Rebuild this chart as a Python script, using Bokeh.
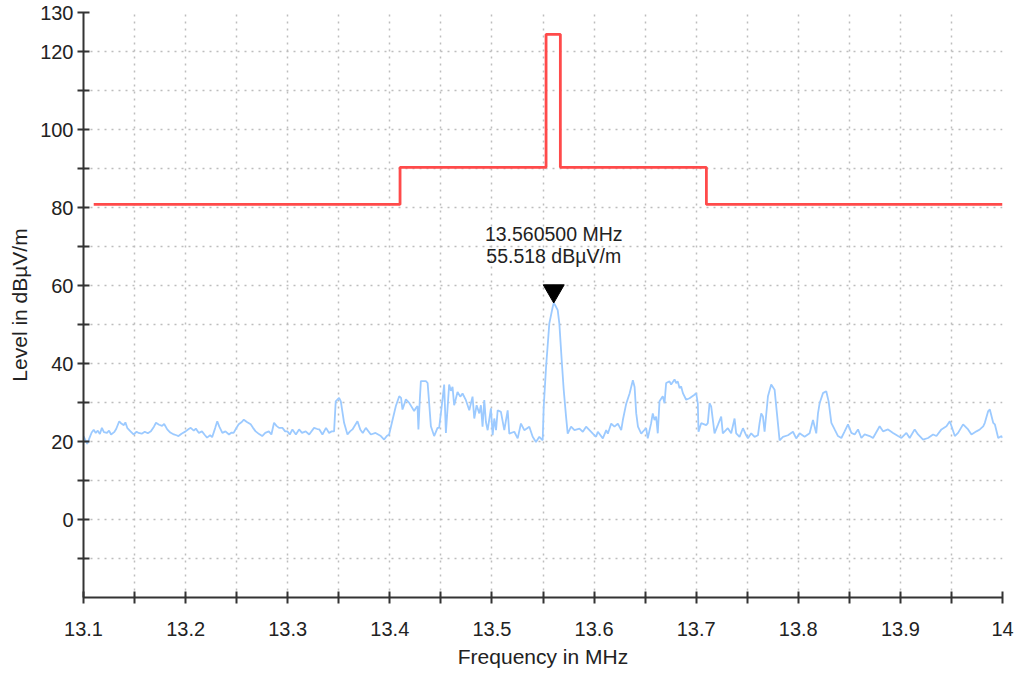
from bokeh.plotting import figure
from bokeh.models import FixedTicker, Range1d, CustomJSTickFormatter
from bokeh.embed import file_html
from bokeh.resources import INLINE
from bokeh.core.properties import value

# ---------------- data ----------------
x_major = [13.1, 13.2, 13.3, 13.4, 13.5, 13.6, 13.7, 13.8, 13.9, 14.0]
x_minor = [13.15, 13.25, 13.35, 13.45, 13.55, 13.65, 13.75, 13.85, 13.95]
y_major = [0, 20, 40, 60, 80, 100, 120, 130]
y_minor = [-10, 10, 30, 50, 70, 90, 110]

limit_freq = [13.11, 13.41, 13.41, 13.553, 13.553, 13.567, 13.567, 13.71, 13.71, 14.0]
limit_level = [80.8, 80.8, 90.3, 90.3, 124.4, 124.4, 90.3, 90.3, 80.8, 80.8]

peak_freq = 13.5605
peak_level = 55.518
peak_label_1 = "13.560500 MHz"
peak_label_2 = "55.518 dBµV/m"

trace_freq = [
    13.100, 13.1036, 13.106, 13.108, 13.110, 13.112, 13.114, 13.116, 13.118, 13.120,
    13.123, 13.125, 13.127, 13.130, 13.132, 13.135, 13.137, 13.1395, 13.141, 13.143,
    13.146, 13.149, 13.152, 13.154, 13.157, 13.160, 13.163, 13.166, 13.169, 13.171,
    13.174, 13.177, 13.179, 13.182, 13.185, 13.1885, 13.191, 13.193, 13.196, 13.200,
    13.203, 13.205, 13.208, 13.210, 13.213, 13.216, 13.219, 13.221, 13.224, 13.226,
    13.229, 13.231, 13.233, 13.236, 13.239, 13.2425, 13.245, 13.247, 13.250, 13.252,
    13.255, 13.257, 13.260, 13.2637, 13.266, 13.2686, 13.272, 13.275, 13.278, 13.2815,
    13.284, 13.2866, 13.289, 13.2915, 13.2948, 13.2975, 13.2997, 13.302, 13.3046, 13.308,
    13.3111, 13.314, 13.3176, 13.321, 13.3258, 13.329, 13.331, 13.334, 13.3375, 13.3405,
    13.343, 13.3454, 13.347, 13.3503, 13.352, 13.3552, 13.3585, 13.361, 13.3634, 13.3683,
    13.371, 13.3735, 13.3765, 13.3814, 13.386, 13.3912, 13.3944, 13.397, 13.3993, 13.402,
    13.4059, 13.4092, 13.411, 13.4124, 13.4157, 13.419, 13.4238, 13.4255, 13.4271, 13.428,
    13.4292, 13.4304, 13.4353, 13.437, 13.4385, 13.4402, 13.4434, 13.4467, 13.4483, 13.4516,
    13.4532, 13.4549, 13.4581, 13.4598, 13.4614, 13.463, 13.4663, 13.469, 13.4712, 13.4745,
    13.4778, 13.481, 13.4827, 13.485, 13.4876, 13.4892, 13.4908, 13.4925, 13.4941, 13.4958,
    13.499, 13.5007, 13.5023, 13.504, 13.5056, 13.5088, 13.5121, 13.5154, 13.517, 13.5219,
    13.5252, 13.5284, 13.5317, 13.5366, 13.5399, 13.5431, 13.5464, 13.5497, 13.5507, 13.553,
    13.5562, 13.5595, 13.5605, 13.5618, 13.5644, 13.566, 13.5683, 13.5703, 13.5726, 13.5742,
    13.5775, 13.5808, 13.5857, 13.589, 13.5922, 13.5955, 13.5988, 13.602, 13.6037, 13.6086,
    13.6119, 13.6135, 13.6168, 13.620, 13.6233, 13.6266, 13.6282, 13.6315, 13.6348, 13.638,
    13.6397, 13.6413, 13.643, 13.6462, 13.6477, 13.651, 13.6526, 13.6559, 13.6575, 13.6592,
    13.6608, 13.6624, 13.6641, 13.6673, 13.669, 13.6706, 13.6739, 13.6755, 13.6788, 13.6804,
    13.682, 13.6837, 13.6853, 13.687, 13.6902, 13.6935, 13.6984, 13.700, 13.7016, 13.7023,
    13.7049, 13.7098, 13.7114, 13.7131, 13.7147, 13.718, 13.7212, 13.7245, 13.7261, 13.731,
    13.7343, 13.7376, 13.7392, 13.7425, 13.7458, 13.749, 13.7507, 13.7539, 13.7572, 13.7605,
    13.7621, 13.7637, 13.7654, 13.767, 13.7703, 13.7735, 13.7768, 13.7791, 13.7817, 13.785,
    13.7899, 13.7948, 13.798, 13.8013, 13.8062, 13.8111, 13.8144, 13.8176, 13.8193, 13.8209,
    13.8242, 13.8268, 13.8274, 13.8297, 13.8324, 13.8356, 13.8389, 13.8422, 13.8454, 13.8487,
    13.852, 13.8552, 13.8585, 13.8618, 13.865, 13.8699, 13.8732, 13.8797, 13.883, 13.8879,
    13.8928, 13.8977, 13.901, 13.9059, 13.9091, 13.914, 13.9173, 13.9222, 13.9271, 13.932,
    13.9353, 13.9402, 13.9451, 13.9484, 13.9533, 13.9565, 13.9614, 13.9663, 13.9696, 13.9745,
    13.9778, 13.9811, 13.9827, 13.986, 13.9876, 13.9909, 13.9925, 13.9958, 13.9991, 14.000,
]
trace_level = [
    21.4, 19.4, 21.0, 22.3, 23.0, 22.2, 22.8, 21.9, 23.5, 22.4,
    22.2, 22.8, 21.8, 22.4, 23.2, 25.2, 24.6, 24.2, 24.9, 23.4,
    22.6, 21.8, 22.5, 22.2, 22.0, 22.5, 22.1, 22.6, 23.8, 24.8,
    24.3, 24.0, 24.5, 23.1, 22.3, 21.8, 21.6, 21.4, 22.0, 22.6,
    23.2, 23.5, 22.8, 23.3, 22.2, 22.6, 21.6, 21.0, 21.6, 21.1,
    23.5, 25.2, 23.8, 22.2, 22.6, 21.8, 22.3, 22.2, 23.6, 24.4,
    25.0, 25.6, 25.0, 24.4, 23.5, 22.6, 21.9, 21.4, 22.2, 22.6,
    21.8, 24.8, 24.0, 23.5, 23.5, 22.6, 22.6, 21.8, 23.1, 21.8,
    23.1, 22.2, 22.6, 21.8, 23.5, 23.2, 23.1, 21.8, 23.5, 22.2,
    22.6, 22.6, 30.3, 31.2, 30.3, 24.8, 21.8, 22.6, 23.1, 25.2,
    23.1, 22.2, 23.5, 21.8, 22.2, 21.4, 20.5, 21.4, 21.8, 24.8,
    29.1, 31.6, 31.2, 28.2, 30.8, 29.9, 27.8, 28.6, 29.1, 23.1,
    29.9, 35.5, 35.5, 35.0, 29.9, 23.9, 21.4, 23.5, 23.5, 30.8,
    34.6, 22.2, 34.6, 33.0, 34.0, 29.3, 32.7, 31.5, 32.3, 30.6,
    28.0, 31.5, 25.9, 29.3, 27.2, 29.3, 23.8, 30.6, 25.0, 22.9,
    28.5, 21.6, 25.9, 22.9, 28.0, 27.6, 22.9, 28.0, 22.0, 22.5,
    20.8, 24.6, 22.9, 23.8, 21.2, 19.9, 21.2, 20.3, 28.9, 39.1,
    50.3, 54.5, 55.518, 55.0, 53.7, 50.3, 40.9, 33.2, 26.3, 22.0,
    23.8, 22.9, 23.3, 22.5, 23.8, 22.9, 22.0, 21.2, 22.5, 20.8,
    22.9, 22.0, 24.6, 23.8, 24.6, 22.9, 25.5, 29.7, 32.3, 35.7,
    34.0, 27.2, 23.8, 22.0, 22.5, 23.4, 20.8, 24.7, 27.2, 25.5,
    26.4, 22.1, 30.3, 31.6, 29.8, 35.0, 35.4, 34.6, 35.9, 35.0,
    35.4, 33.7, 34.1, 32.4, 30.7, 31.1, 32.0, 32.4, 29.8, 22.5,
    24.7, 24.2, 24.7, 29.8, 29.0, 22.1, 24.2, 26.4, 22.1, 23.4,
    22.1, 25.9, 22.1, 21.2, 23.4, 21.6, 20.8, 22.1, 21.2, 21.6,
    24.7, 27.2, 26.4, 22.5, 31.6, 34.6, 33.3, 27.2, 20.3, 21.2,
    21.6, 22.5, 20.8, 22.1, 21.2, 22.1, 25.5, 22.1, 27.2, 29.8,
    32.4, 32.8, 32.9, 30.3, 24.8, 23.1, 21.4, 20.9, 22.6, 24.4,
    22.2, 21.8, 23.1, 20.9, 21.8, 21.4, 20.9, 23.9, 22.6, 23.1,
    22.2, 21.4, 20.9, 22.2, 20.9, 23.1, 21.8, 20.5, 20.9, 21.8,
    21.4, 23.1, 23.9, 25.2, 21.4, 22.2, 24.4, 23.1, 21.8, 22.6,
    23.1, 23.9, 24.8, 27.8, 28.2, 24.8, 24.4, 20.9, 21.4, 20.9,
]

x_label = "Frequency in MHz"
y_label = "Level in dBµV/m"

# ---------------- figure ----------------
FONT = "Liberation Sans"
TXT = "#222222"

p = figure(
    width=1014, height=670,
    x_range=Range1d(13.1, 14.0), y_range=Range1d(-20, 130),
    output_backend="svg", toolbar_location=None,
    min_border_left=83, min_border_right=12, min_border_top=12, min_border_bottom=60,
)
p.outline_line_color = None
p.background_fill_color = "white"
p.border_fill_color = "white"

xt = FixedTicker(ticks=x_major, minor_ticks=x_minor)
yt = FixedTicker(ticks=y_major, minor_ticks=y_minor)
p.xaxis.ticker = xt
p.yaxis.ticker = yt
p.xgrid.ticker = xt
p.ygrid.ticker = yt
p.xaxis.formatter = CustomJSTickFormatter(code="return tick.toFixed(1).replace(/\\.0$/, '');")

for g in (p.xgrid, p.ygrid):
    g.grid_line_color = "#bdbdbd"
    g.grid_line_dash = "2 5"
    g.grid_line_width = 1.5
    g.minor_grid_line_color = "#bdbdbd"
    g.minor_grid_line_dash = "2 5"
    g.minor_grid_line_width = 1.5

for ax in (p.xaxis, p.yaxis):
    ax.axis_line_color = "#333333"
    ax.axis_line_width = 2
    ax.major_tick_line_color = "#333333"
    ax.major_tick_line_width = 2
    ax.minor_tick_line_color = "#333333"
    ax.minor_tick_line_width = 2
    ax.major_tick_in = 6
    ax.major_tick_out = 6
    ax.minor_tick_in = 6
    ax.minor_tick_out = 6
    ax.major_label_text_font = FONT
    ax.major_label_text_font_size = "20px"
    ax.major_label_text_color = TXT
    ax.axis_label_text_font = FONT
    ax.axis_label_text_font_size = "21px"
    ax.axis_label_text_font_style = "normal"
    ax.axis_label_text_color = TXT

p.xaxis.axis_label = x_label
p.yaxis.axis_label = y_label
p.xaxis.major_label_standoff = 18
p.xaxis.axis_label_standoff = 6
p.yaxis.major_label_standoff = 4
p.yaxis.axis_label_standoff = 6

# measured trace
p.line(trace_freq, trace_level, line_color="#9ccaff", line_width=1.8)

# limit line
p.line(limit_freq, limit_level, line_color="#ff4a4a", line_width=2.8)

# marker
p.scatter([peak_freq], [peak_level + 3.1], marker="inverted_triangle", size=21,
          fill_color="black", line_color="black")
p.text([peak_freq], [peak_level], text=[peak_label_1], y_offset=-69,
       text_align="center", text_baseline="middle",
       text_font=value(FONT), text_font_size="19.5px", text_color=TXT)
p.text([peak_freq], [peak_level], text=[peak_label_2], y_offset=-47,
       text_align="center", text_baseline="middle",
       text_font=value(FONT), text_font_size="19.5px", text_color=TXT)

open("out.html", "w").write(file_html(p, INLINE))
